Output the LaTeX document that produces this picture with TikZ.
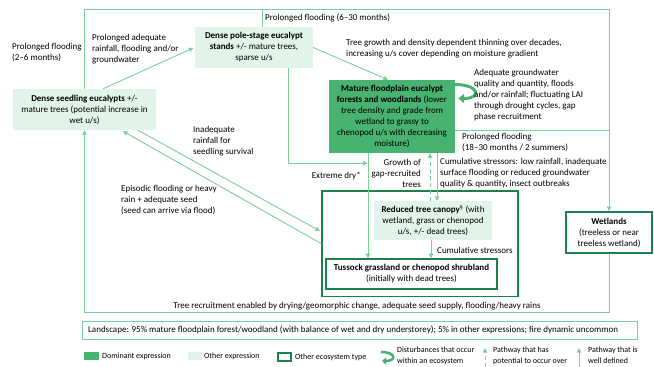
\documentclass[tikz,border=0pt]{standalone}
\usepackage{fontspec}
\setmainfont{Carlito}
\usetikzlibrary{arrows.meta,calc}
\definecolor{lg}{RGB}{120,208,155}
\definecolor{mg}{RGB}{72,178,112}
\definecolor{pg}{RGB}{226,244,233}
\definecolor{dg}{RGB}{25,130,75}
\tikzset{
 txt/.style={font=\fontsize{9}{11}\selectfont},
 box/.style={txt, inner sep=0pt, align=center},
 other/.style={box, fill=pg},
 dom/.style={box, fill=mg},
 eco/.style={box, draw=dg, line width=1.8pt, fill=white},
 lbl/.style={txt, inner sep=0pt, align=left, anchor=west},
 rlbl/.style={txt, inner sep=0pt, align=right, anchor=east},
 leg/.style={font=\fontsize{8}{11}\selectfont, inner sep=0pt, align=left, anchor=west},
 conn/.style={draw=lg, line width=0.9pt, -{Triangle[length=4.5pt,width=4.5pt]}},
 plain/.style={draw=lg, line width=0.9pt},
}
\begin{document}
\begin{tikzpicture}[x=1pt,y=-1pt]
\useasboundingbox (0,0) rectangle (654,367);
% boxes
\node[other, minimum width=143pt, minimum height=41pt] (seed) at (84.5,109.5) {\textbf{Dense seedling eucalypts} +/-\\mature trees (potential increase in\\wet u/s)};
\node[other, minimum width=118pt, minimum height=41pt] (pole) at (254,47.5) {\textbf{Dense pole-stage eucalypt}\\\textbf{stands} +/- mature trees,\\sparse u/s};
\node[dom, minimum width=126pt, minimum height=73pt] (mat) at (392,116.5) {\textbf{Mature floodplain eucalypt}\\\textbf{forests and woodlands} (lower\\tree density and grade from\\wetland to grassy to\\chenopod u/s with decreasing\\moisture)};
\node[draw=dg, line width=1.1pt, minimum width=196pt, minimum height=105.5pt, inner sep=0pt] (grp) at (420,243.75) {};
\node[other, minimum width=118pt, minimum height=39pt] (red) at (433,220.5) {\textbf{Reduced tree canopy}\textsuperscript{§} (with\\wetland, grass or chenopod\\u/s, +/- dead trees)};
\node[eco, minimum width=171pt, minimum height=30pt] (tus) at (411.5,274) {\textbf{Tussock grassland or chenopod shrubland}\\(initially with dead trees)};
\node[eco, minimum width=86pt, minimum height=41pt] (wet) at (609,232.5) {\textbf{Wetlands}\\(treeless or near\\treeless wetland)};
\node[draw=lg, line width=0.9pt, minimum width=555pt, minimum height=18pt, inner sep=0pt] (land) at (359.5,330) {};
\node[lbl] (landt) at (88,330) {Landscape: 95\% mature floodplain forest/woodland (with balance of wet and dry understorey); 5\% in other expressions; fire dynamic uncommon};
% junction coordinates
\coordinate (tl) at (84.5,9);
\coordinate (tr) at (609,9);
\coordinate (jn) at (609,130);
\coordinate (br) at (609,312);
\coordinate (bl) at (84.5,312);
% connectors
\draw[conn] (seed.north) -- (tl) -- (tr) -- (wet.north);
\draw[plain] ($(pole.north)+(8,0)$) |- (tr);
\draw[plain] ($(mat.east)+(0,13.5)$) -- (jn);
\draw[conn] (wet.south) -- (br) -- (bl) -- (seed.south);
\draw[conn] ($(seed.north)+(18.5,0)$) -- ($(pole.west)+(-1.5,0.5)$);
\draw[conn] (pole.east) -- ($(mat.north)+(-4,0)$);
\draw[conn] ($(pole.south)+(34,0)$) |- ($(mat.south)+(-24.5,10)$);
\draw[conn] ($(mat.south)+(-24,0)$) -- ($(tus.north)+(-43.5,0)$);
\draw[conn] ($(mat.south)+(45,0)$) -- ($(red.north)+(4,0)$);
\draw[conn, dashed, dash pattern=on 4pt off 3pt] ($(red.north)+(-3,0)$) -- ($(mat.south)+(38,0)$);
\coordinate (rs) at ($(red.south)+(-2,0)$);
\draw[conn] (rs) -- (rs |- tus.north);
\draw[conn] ($(seed.south)+(53.5,0)$) -- ($(grp.west)+(-1.5,-12.75)$);
\draw[conn] (grp.west) -- ($(seed.south)+(38.5,1)$);
\draw[mg, line width=3pt, -{Triangle[length=6pt,width=9pt]}] ($(mat.east)+(0,-32)$) .. controls +(24,0) and +(24,0) .. ($(mat.east)+(3,-18)$);
% labels
\node[lbl] (l1) at (12,52.5) {Prolonged flooding\\(2–6 months)};
\node[lbl] (l2) at (92,49) {Prolonged adequate\\rainfall, flooding and/or\\groundwater};
\node[lbl] (l3) at (265,18) {Prolonged flooding (6–30 months)};
\node[lbl] (l4) at (346,48.5) {Tree growth and density dependent thinning over decades,\\increasing u/s cover depending on moisture gradient};
\node[lbl] (l5) at (474,95) {Adequate groundwater\\quality and quantity, floods\\and/or rainfall; fluctuating LAI\\through drought cycles, gap\\phase recruitment};
\node[lbl] (l6) at (462,142) {Prolonged flooding\\(18–30 months / 2 summers)};
\node[rlbl] (l7) at (421,173.5) {Growth of\\gap-recruited\\trees};
\node[lbl] (l8) at (440,173.5) {Cumulative stressors: low rainfall, inadequate\\surface flooding or reduced groundwater\\quality \& quantity, insect outbreaks};
\node[rlbl] (l9) at (361,176) {Extreme dry*};
\node[lbl] (l10) at (193,141.5) {Inadequate\\rainfall for\\seedling survival};
\node[lbl] (l11) at (121,199.5) {Episodic flooding or heavy\\rain + adequate seed\\(seed can arrive via flood)};
\node[lbl] (l12) at (437,250) {Cumulative stressors};
\node[txt, inner sep=0pt] (l13) at (357,306) {Tree recruitment enabled by drying/geomorphic change, adequate seed supply, flooding/heavy rains};
% legend
\node[fill=mg, minimum width=15pt, minimum height=8pt, inner sep=0pt] (ldom) at (91.5,356) {};
\node[leg] (ldomt) at (102,356) {Dominant expression};
\node[fill=pg, minimum width=14pt, minimum height=8pt, inner sep=0pt] (loth) at (195,356) {};
\node[leg] (lotht) at (204,356) {Other expression};
\node[draw=dg, line width=1.6pt, minimum width=13pt, minimum height=8pt, inner sep=0pt] (leco) at (284.5,357) {};
\node[leg] (lecot) at (295,357) {Other ecosystem type};
\coordinate (la1) at (381,352);
\coordinate (la2) at (382,361);
\draw[mg, line width=2.5pt, -{Triangle[length=4pt,width=7pt]}] (la1) .. controls +(15,0) and +(15,0) .. (la2);
\node[leg] (ldist) at (397,355.5) {Disturbances that occur\\within an ecosystem};
\coordinate (ld1) at (485,367);
\coordinate (ld2) at (485,348);
\draw[conn, dashed, dash pattern=on 4pt off 3pt] (ld1) -- (ld2);
\node[leg] (lpot) at (493,355.5) {Pathway that has\\potential to occur over};
\coordinate (ls1) at (579,367);
\coordinate (ls2) at (579,348);
\draw[conn] (ls1) -- (ls2);
\node[leg] (lwell) at (588,355.5) {Pathway that is\\well defined};
\end{tikzpicture}
\end{document}
